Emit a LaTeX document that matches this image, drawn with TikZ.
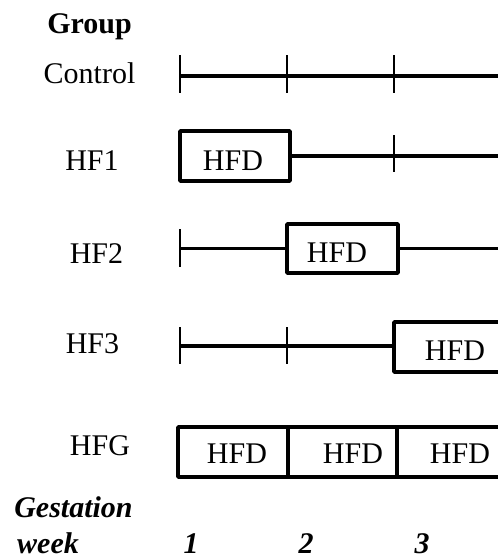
\documentclass[tikz,border=0pt]{standalone}
\usepackage{fontspec}
\setmainfont{Liberation Serif}
\newfontfamily\tnrfont{Liberation Serif}
\begin{document}
\begin{tikzpicture}[x=1pt,y=-1pt,
  txt/.style={inner sep=0pt, anchor=base, font=\tnrfont\fontsize{30}{36}\selectfont},
  btxt/.style={txt, font=\tnrfont\fontsize{30}{36}\selectfont\bfseries},
  bitxt/.style={txt, font=\tnrfont\fontsize{30}{36}\selectfont\bfseries\itshape},
  tl/.style={line width=3.6pt},
  tick/.style={line width=1.3pt},
  hfd/.style={draw, line width=3.8pt, inner sep=0pt, rounded corners=0.8pt},
]
\useasboundingbox (0,0) rectangle (498,558);
\clip (0,0) rectangle (498,558);
\fill[white] (0,0) rectangle (498,558);

% left labels
\node[btxt] (group) at (89.5,33) {Group};
\node[txt] (control) at (89.5,83) {Control};
\node[txt] (hf1) at (92,170) {HF1};
\node[txt] (hf2) at (96.5,263) {HF2};
\node[txt] (hf3) at (92.5,353) {HF3};
\node[txt] (hfg) at (100,455) {HFG};
\node[bitxt] (gest) at (73.5,517) {Gestation};
\node[bitxt] (week) at (48,553) {week};
\node[bitxt] (w1) at (191,553) {1};
\node[bitxt] (w2) at (306,553) {2};
\node[bitxt] (w3) at (422,553) {3};

% Control
\coordinate (c0) at (180,76);
\coordinate (c1) at (515,76);
\draw[tl] (c0) -- (c1);
\draw[tick] (180,55) -- (180,93);
\draw[tick] (287,55) -- (287,93);
\draw[tick] (394,55) -- (394,93);

% HF1
\node[hfd, minimum width=110pt, minimum height=50pt] (b1) at (235,156) {};
\node[txt] (b1t) at (233,170) {HFD};
\coordinate (h1e) at (515,156);
\draw[tl] (b1.east) -- (h1e);
\draw[tick] (394,135) -- (394,172);

% HF2
\coordinate (h2s) at (180,248.5);
\node[hfd, minimum width=111pt, minimum height=49pt] (b2) at (342.5,248.5) {};
\node[txt] (b2t) at (337,262) {HFD};
\coordinate (h2e) at (515,248.5);
\draw[tl] (h2s) -- (b2.west);
\draw[tl] (b2.east) -- (h2e);
\draw[tick] (180,229) -- (180,267);

% HF3
\coordinate (h3s) at (180,346);
\node[hfd, minimum width=122pt, minimum height=50pt] (b3) at (455,347) {};
\node[txt] (b3t) at (455,360) {HFD};
\draw[tl] (h3s) -- (h3s -| b3.west);
\draw[tick] (180,327) -- (180,364);
\draw[tick] (287,327) -- (287,364);

% HFG
\node[hfd, minimum width=110pt, minimum height=50pt] (g1) at (233,452) {};
\node[hfd, minimum width=109pt, minimum height=50pt] (g2) at (342.5,452) {};
\node[hfd, minimum width=119pt, minimum height=50pt] (g3) at (456.5,452) {};
\node[txt] (g1t) at (237,463) {HFD};
\node[txt] (g2t) at (353,463) {HFD};
\node[txt] (g3t) at (460,463) {HFD};
\end{tikzpicture}
\end{document}
